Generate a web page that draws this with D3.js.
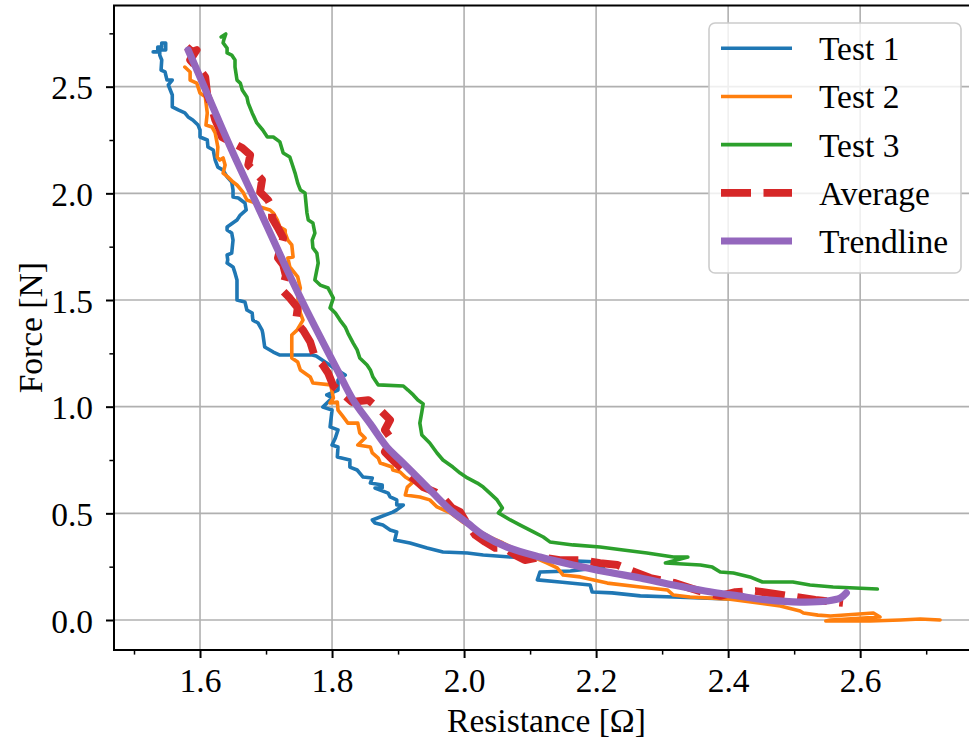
<!DOCTYPE html>
<html>
<head>
<meta charset="utf-8">
<script src="https://cdn.jsdelivr.net/npm/d3@7"></script>
<style>
  html, body { margin: 0; padding: 0; background: #fff; }
  svg { display: block; }
  text { font-family: "Liberation Serif", "Times New Roman", serif; fill: #000; }
</style>
</head>
<body>
<svg id="chart" width="969" height="740"></svg>
<script>
// Force vs. resistance of the sensor: three test runs, their average and a fitted trend.
const seriesNames = ["Test 1", "Test 2", "Test 3", "Average", "Trendline"];

// [resistance (Ω), force (N)]
const test1 = [[1.529,2.663],[1.536,2.663],[1.536,2.686],[1.542,2.686],[1.542,2.705],[1.548,2.705],[1.548,2.672],[1.539,2.672],[1.539,2.648],[1.542,2.625],[1.541,2.578],[1.547,2.569],[1.550,2.531],[1.558,2.531],[1.552,2.508],[1.558,2.461],[1.558,2.405],[1.567,2.391],[1.577,2.377],[1.582,2.358],[1.589,2.344],[1.597,2.320],[1.600,2.297],[1.600,2.264],[1.611,2.250],[1.612,2.217],[1.620,2.203],[1.623,2.156],[1.627,2.123],[1.635,2.109],[1.641,2.077],[1.648,2.053],[1.650,2.016],[1.650,1.983],[1.658,1.978],[1.668,1.955],[1.670,1.922],[1.661,1.898],[1.656,1.875],[1.641,1.842],[1.641,1.828],[1.648,1.814],[1.650,1.781],[1.648,1.720],[1.641,1.711],[1.642,1.688],[1.641,1.673],[1.650,1.655],[1.653,1.627],[1.656,1.594],[1.656,1.500],[1.668,1.491],[1.671,1.453],[1.679,1.439],[1.680,1.406],[1.688,1.392],[1.694,1.359],[1.695,1.345],[1.698,1.280],[1.711,1.256],[1.721,1.242],[1.770,1.242],[1.776,1.238],[1.812,1.163],[1.820,1.148],[1.809,1.125],[1.809,1.078],[1.792,1.055],[1.800,1.041],[1.786,0.998],[1.800,0.984],[1.797,0.905],[1.809,0.891],[1.805,0.853],[1.800,0.820],[1.809,0.811],[1.808,0.764],[1.827,0.750],[1.827,0.717],[1.838,0.703],[1.847,0.670],[1.861,0.666],[1.858,0.642],[1.876,0.633],[1.876,0.619],[1.865,0.619],[1.885,0.595],[1.888,0.577],[1.898,0.563],[1.898,0.539],[1.908,0.539],[1.898,0.516],[1.892,0.506],[1.861,0.469],[1.865,0.455],[1.877,0.445],[1.888,0.422],[1.898,0.413],[1.895,0.375],[1.918,0.361],[1.944,0.338],[1.968,0.319],[2.005,0.314],[2.029,0.305],[2.070,0.295],[2.105,0.291],[2.130,0.281],[2.161,0.277],[2.206,0.272],[2.211,0.248],[2.161,0.230],[2.115,0.225],[2.111,0.188],[2.145,0.178],[2.191,0.164],[2.194,0.131],[2.224,0.127],[2.267,0.113],[2.317,0.108],[2.358,0.103],[2.411,0.098]];

const test2 = [[1.577,2.592],[1.585,2.569],[1.585,2.531],[1.595,2.517],[1.600,2.470],[1.608,2.452],[1.611,2.377],[1.609,2.320],[1.618,2.311],[1.623,2.283],[1.627,2.217],[1.626,2.170],[1.630,2.156],[1.635,2.166],[1.638,2.133],[1.635,2.095],[1.642,2.077],[1.650,2.053],[1.656,2.039],[1.665,2.006],[1.671,1.969],[1.680,1.959],[1.691,1.936],[1.706,1.922],[1.711,1.908],[1.717,1.875],[1.721,1.842],[1.729,1.828],[1.729,1.814],[1.733,1.781],[1.739,1.758],[1.741,1.702],[1.733,1.697],[1.736,1.655],[1.748,1.608],[1.752,1.556],[1.748,1.514],[1.752,1.439],[1.756,1.406],[1.747,1.359],[1.739,1.336],[1.739,1.228],[1.748,1.209],[1.752,1.172],[1.767,1.139],[1.771,1.111],[1.798,1.102],[1.802,1.041],[1.797,1.017],[1.808,1.022],[1.809,0.984],[1.817,0.952],[1.824,0.923],[1.839,0.923],[1.842,0.877],[1.850,0.853],[1.839,0.820],[1.858,0.811],[1.861,0.783],[1.870,0.759],[1.873,0.736],[1.891,0.717],[1.892,0.703],[1.903,0.694],[1.911,0.670],[1.923,0.647],[1.914,0.623],[1.911,0.586],[1.933,0.577],[1.948,0.563],[1.959,0.530],[1.979,0.502],[1.998,0.459],[2.020,0.422],[2.039,0.389],[2.059,0.361],[2.080,0.328],[2.105,0.295],[2.126,0.267],[2.141,0.244],[2.150,0.211],[2.176,0.202],[2.217,0.173],[2.267,0.155],[2.308,0.141],[2.317,0.117],[2.342,0.108],[2.403,0.098],[2.479,0.066],[2.509,0.042],[2.514,0.033],[2.536,0.023],[2.555,0.019],[2.620,0.033],[2.630,0.014],[2.555,0.000],[2.548,-0.005],[2.615,-0.005],[2.661,0.000],[2.691,0.005],[2.721,0.000]];

const test3 = [[1.632,2.733],[1.639,2.747],[1.636,2.719],[1.635,2.705],[1.641,2.681],[1.641,2.658],[1.648,2.648],[1.653,2.625],[1.653,2.592],[1.656,2.531],[1.661,2.517],[1.664,2.484],[1.671,2.452],[1.673,2.423],[1.679,2.377],[1.686,2.330],[1.695,2.297],[1.702,2.264],[1.711,2.264],[1.721,2.241],[1.726,2.189],[1.736,2.170],[1.739,2.142],[1.744,2.095],[1.748,2.048],[1.752,2.016],[1.759,2.002],[1.762,1.908],[1.764,1.875],[1.771,1.861],[1.774,1.814],[1.770,1.781],[1.771,1.744],[1.777,1.720],[1.779,1.673],[1.774,1.594],[1.782,1.570],[1.794,1.556],[1.802,1.509],[1.797,1.463],[1.805,1.439],[1.812,1.406],[1.820,1.373],[1.824,1.345],[1.832,1.298],[1.838,1.266],[1.842,1.228],[1.853,1.195],[1.858,1.172],[1.862,1.139],[1.870,1.102],[1.908,1.097],[1.915,1.078],[1.923,1.055],[1.930,1.031],[1.938,1.013],[1.936,0.975],[1.933,0.923],[1.936,0.867],[1.948,0.830],[1.959,0.783],[1.968,0.750],[1.983,0.717],[1.994,0.689],[2.005,0.666],[2.020,0.642],[2.029,0.623],[2.039,0.595],[2.050,0.563],[2.058,0.525],[2.052,0.502],[2.070,0.469],[2.085,0.445],[2.105,0.413],[2.120,0.389],[2.130,0.366],[2.165,0.352],[2.206,0.342],[2.241,0.328],[2.277,0.314],[2.317,0.295],[2.339,0.295],[2.305,0.267],[2.358,0.258],[2.376,0.248],[2.388,0.225],[2.408,0.220],[2.433,0.202],[2.452,0.178],[2.498,0.178],[2.524,0.164],[2.559,0.155],[2.626,0.145]];

const average = [[1.580,2.686],[1.588,2.663],[1.595,2.672],[1.585,2.625],[1.592,2.602],[1.600,2.578],[1.608,2.545],[1.611,2.461],[1.618,2.400],[1.623,2.344],[1.630,2.297],[1.633,2.264],[1.650,2.236],[1.664,2.213],[1.676,2.180],[1.673,2.133],[1.683,2.100],[1.694,2.063],[1.691,2.006],[1.703,1.969],[1.709,1.936],[1.709,1.884],[1.718,1.838],[1.726,1.791],[1.718,1.697],[1.726,1.664],[1.730,1.613],[1.724,1.547],[1.736,1.509],[1.748,1.463],[1.745,1.397],[1.756,1.359],[1.767,1.303],[1.774,1.233],[1.786,1.195],[1.794,1.158],[1.802,1.097],[1.820,1.050],[1.830,1.022],[1.855,1.031],[1.873,0.984],[1.888,0.938],[1.880,0.891],[1.891,0.844],[1.880,0.788],[1.895,0.741],[1.908,0.703],[1.926,0.656],[1.938,0.623],[1.956,0.600],[1.971,0.563],[1.982,0.525],[1.994,0.506],[2.006,0.445],[2.017,0.398],[2.032,0.366],[2.047,0.338],[2.062,0.338],[2.077,0.305],[2.092,0.281],[2.115,0.295],[2.145,0.281],[2.176,0.281],[2.206,0.267],[2.232,0.258],[2.259,0.225],[2.282,0.197],[2.320,0.173],[2.342,0.150],[2.365,0.127],[2.388,0.113],[2.411,0.131],[2.441,0.136],[2.471,0.122],[2.502,0.108],[2.532,0.094],[2.574,0.080]];

const trendline = [[1.582,2.672],[1.600,2.545],[1.626,2.358],[1.650,2.189],[1.676,2.016],[1.702,1.842],[1.732,1.641],[1.756,1.486],[1.782,1.327],[1.808,1.172],[1.832,1.031],[1.858,0.919],[1.883,0.811],[1.903,0.750],[1.929,0.670],[1.953,0.595],[1.979,0.516],[2.005,0.455],[2.029,0.398],[2.065,0.342],[2.115,0.295],[2.165,0.258],[2.217,0.225],[2.267,0.197],[2.317,0.164],[2.365,0.136],[2.415,0.113],[2.459,0.094],[2.509,0.084],[2.550,0.089],[2.570,0.103],[2.579,0.127]];

// Axis limits and ticks
const xDomain = [1.4697, 2.78];
const yDomain = [-0.1406, 2.8805];
const xMajorTicks = [1.6, 1.8, 2.0, 2.2, 2.4, 2.6];
const xMinorTicks = [1.5, 1.7, 1.9, 2.1, 2.3, 2.5, 2.7];
const yMajorTicks = [0.0, 0.5, 1.0, 1.5, 2.0, 2.5];
const yMinorTicks = [0.25, 0.75, 1.25, 1.75, 2.25, 2.75];

const colors = ["#1f77b4", "#ff7f0e", "#2ca02c", "#d62728", "#9467bd"];

const plot = { left: 114, right: 979, top: 5.5, bottom: 650 };
const FONT = 33.5;
const FAMILY = '"Liberation Serif", "Times New Roman", serif';

const svg = d3.select("#chart");
svg.append("rect").attr("width", 969).attr("height", 740).attr("fill", "#fff");

const x = d3.scaleLinear().domain(xDomain).range([plot.left, plot.right]);
const y = d3.scaleLinear().domain(yDomain).range([plot.bottom, plot.top]);

svg.append("defs").append("clipPath").attr("id", "plotClip")
  .append("rect")
  .attr("x", plot.left).attr("y", plot.top)
  .attr("width", plot.right - plot.left).attr("height", plot.bottom - plot.top);

// Grid
const grid = svg.append("g").attr("stroke", "#b0b0b0").attr("stroke-width", 1.6);
grid.selectAll("line.gx").data(xMajorTicks).join("line")
  .attr("x1", d => x(d)).attr("x2", d => x(d))
  .attr("y1", plot.top).attr("y2", plot.bottom);
grid.selectAll("line.gy").data(yMajorTicks).join("line")
  .attr("x1", plot.left).attr("x2", plot.right)
  .attr("y1", d => y(d)).attr("y2", d => y(d));

// Data lines
const line = d3.line().x(d => x(d[0])).y(d => y(d[1]));
const smooth = d3.line().x(d => x(d[0])).y(d => y(d[1])).curve(d3.curveCatmullRom.alpha(0.5));
const lines = svg.append("g").attr("clip-path", "url(#plotClip)").attr("fill", "none");

const styles = [
  { data: test1, color: colors[0], width: 3.6, dash: null, gen: line },
  { data: test2, color: colors[1], width: 3.6, dash: null, gen: line },
  { data: test3, color: colors[2], width: 3.6, dash: null, gen: line },
  { data: average, color: colors[3], width: 7.8, dash: "30,12.5", gen: line },
  { data: trendline, color: colors[4], width: 7.2, dash: null, gen: smooth }
];
styles.forEach(s => {
  const p = lines.append("path")
    .attr("d", s.gen(s.data))
    .attr("stroke", s.color)
    .attr("stroke-width", s.width)
    .attr("stroke-linejoin", "round")
    .attr("stroke-linecap", s.dash ? "butt" : "round");
  if (s.dash) p.attr("stroke-dasharray", s.dash);
});

// Axes
function styleAxis(g) {
  g.select(".domain").remove();
  g.selectAll(".tick line").attr("stroke", "#000").attr("stroke-width", 2);
  g.selectAll(".tick text").style("font-size", FONT + "px")
    .style("font-family", FAMILY).attr("fill", "#000");
}
svg.append("g").attr("transform", `translate(0,${plot.bottom})`)
  .call(d3.axisBottom(x).tickValues(xMajorTicks).tickFormat(d3.format(".1f")).tickSize(8).tickPadding(10))
  .call(styleAxis)
  .call(g => g.selectAll(".tick text").attr("dy", "0.71em"));
svg.append("g").attr("transform", `translate(0,${plot.bottom})`)
  .call(d3.axisBottom(x).tickValues(xMinorTicks).tickFormat("").tickSize(4.6))
  .call(styleAxis)
  .call(g => g.selectAll(".tick line").attr("stroke-width", 1.5));
svg.append("g").attr("transform", `translate(${plot.left},0)`)
  .call(d3.axisLeft(y).tickValues(yMajorTicks).tickFormat(d3.format(".1f")).tickSize(8).tickPadding(13))
  .call(styleAxis)
  .call(g => g.selectAll(".tick text").attr("dy", "0.36em"));
svg.append("g").attr("transform", `translate(${plot.left},0)`)
  .call(d3.axisLeft(y).tickValues(yMinorTicks).tickFormat("").tickSize(4.6))
  .call(styleAxis)
  .call(g => g.selectAll(".tick line").attr("stroke-width", 1.5));

// Frame
svg.append("rect")
  .attr("x", plot.left).attr("y", plot.top)
  .attr("width", plot.right - plot.left).attr("height", plot.bottom - plot.top)
  .attr("fill", "none").attr("stroke", "#000").attr("stroke-width", 2);

// Axis titles
svg.append("text")
  .attr("x", (plot.left + plot.right) / 2).attr("y", 732)
  .attr("text-anchor", "middle").style("font-size", FONT + "px")
  .text("Resistance [Ω]");
svg.append("text")
  .attr("transform", `translate(42,${(plot.top + plot.bottom) / 2}) rotate(-90)`)
  .attr("text-anchor", "middle").style("font-size", FONT + "px")
  .text("Force [N]");

// Legend
const legend = svg.append("g");
legend.append("rect")
  .attr("x", 709).attr("y", 23).attr("width", 252).attr("height", 250)
  .attr("rx", 6).attr("ry", 6)
  .attr("fill", "#fff").attr("fill-opacity", 0.8)
  .attr("stroke", "#cccccc").attr("stroke-width", 1.6);
const rowY = d3.scalePoint().domain(seriesNames).range([48.3, 241]);
seriesNames.forEach((name, i) => {
  const s = styles[i];
  const ly = rowY(name);
  const l = legend.append("line")
    .attr("x1", 721).attr("x2", 792).attr("y1", ly).attr("y2", ly)
    .attr("stroke", s.color).attr("stroke-width", s.width);
  if (s.dash) l.attr("stroke-dasharray", s.dash);
  legend.append("text")
    .attr("x", 819).attr("y", ly + 12)
    .style("font-size", FONT + "px")
    .text(name);
});
</script>
</body>
</html>
